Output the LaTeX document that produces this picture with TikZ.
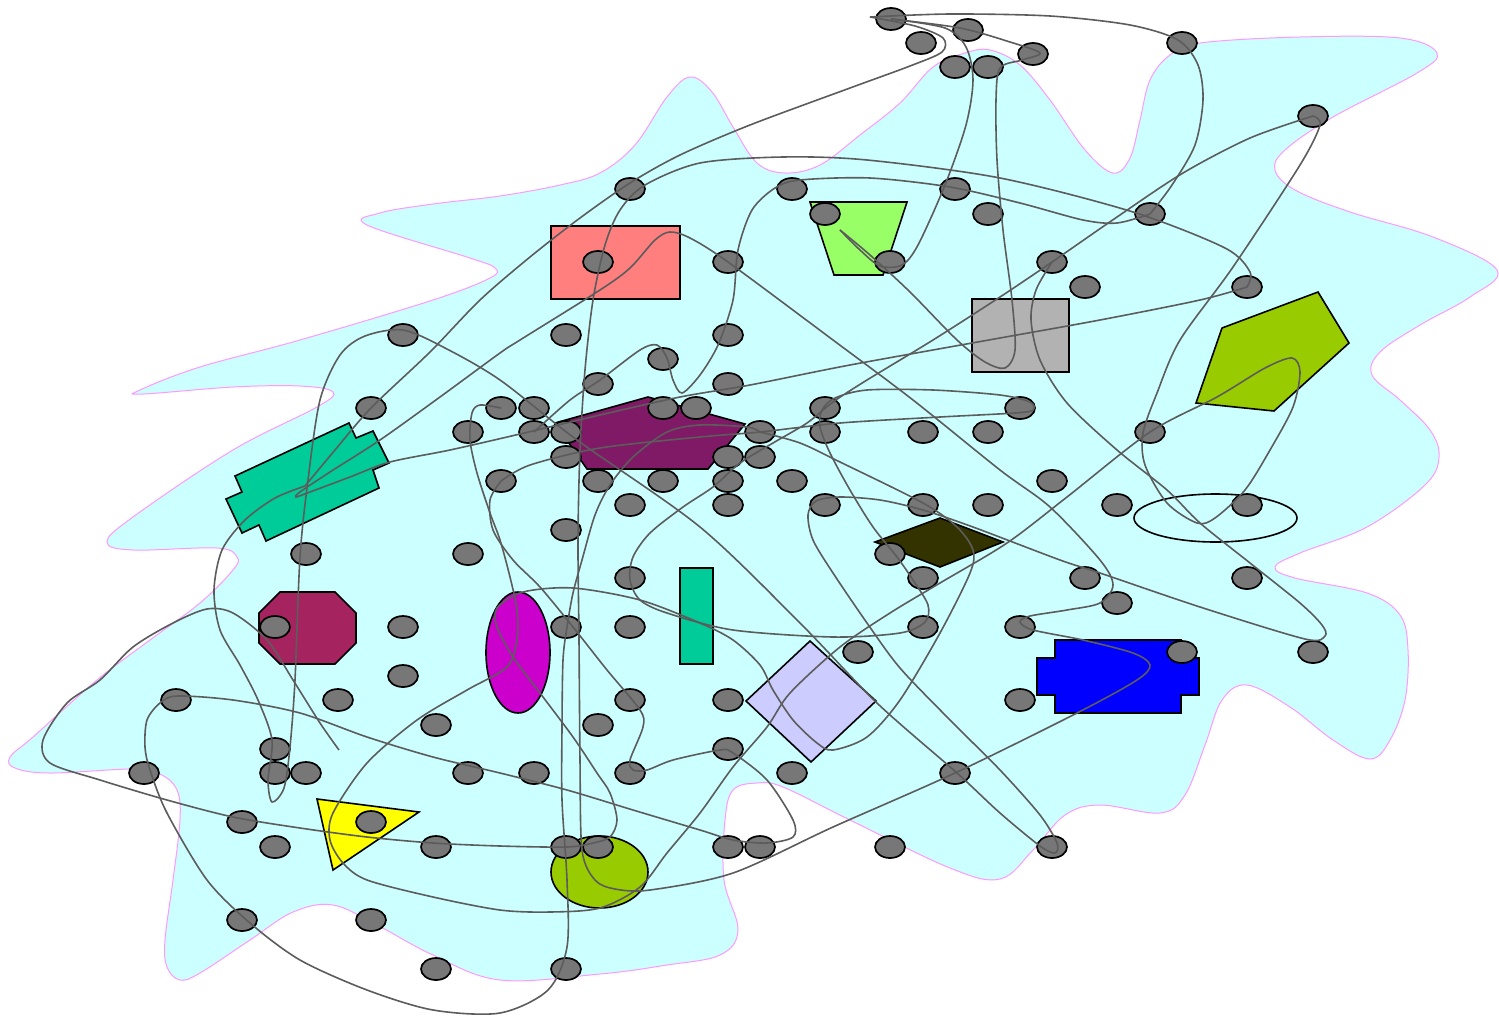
\documentclass[tikz,border=0pt]{standalone}
\usetikzlibrary{shapes.geometric}
\definecolor{blobfill}{HTML}{CCFFFF}
\definecolor{blobline}{HTML}{FF99FF}
\definecolor{edgec}{HTML}{5C5C5C}
\definecolor{nodec}{HTML}{777777}
\definecolor{salmonc}{HTML}{FF7F7F}
\definecolor{trapc}{HTML}{99FF66}
\definecolor{grayc}{HTML}{B2B2B2}
\definecolor{ygc}{HTML}{99CC00}
\definecolor{purplec}{HTML}{801A66}
\definecolor{tealc}{HTML}{00CC99}
\definecolor{crimsonc}{HTML}{A52460}
\definecolor{magc}{HTML}{CC00CC}
\definecolor{lavc}{HTML}{CCCCFF}
\definecolor{olivec}{HTML}{333300}
\definecolor{bluec}{HTML}{0000FF}
\definecolor{yelc}{HTML}{FFFF00}
\begin{document}
\begin{tikzpicture}[x=1pt,y=-1pt,
  gdot/.style={ellipse, draw=black, fill=nodec, line width=1.7pt, minimum width=30pt, minimum height=22pt, inner sep=0pt, outer sep=0pt},
  conn/.style={draw=edgec, line width=1.6pt},
  shp/.style={draw=black, line width=1.6pt, inner sep=0pt, outer sep=0pt}]
\useasboundingbox (0,0) rectangle (1499,1018);
% background cluster
\path[fill=blobfill, draw=blobline, line width=1pt] plot[smooth cycle, tension=0.6] coordinates {
(690,77) (712,92) (733,127) (757,163) (785,173) (820,165) (860,135) (900,103) (933,67) (965,53) (990,50) (1020,65) (1050,100) (1085,150) (1113,173) (1130,158) (1140,120) (1150,80) (1170,55) (1200,43) (1300,37) (1400,38) (1437,53) (1417,73) (1333,117) (1285,150) (1275,170) (1295,190) (1350,212) (1433,237) (1497,270) (1470,297) (1420,325) (1380,352) (1372,375) (1400,400) (1430,430) (1439,457) (1425,485) (1367,527) (1300,553) (1275,567) (1295,578) (1367,593) (1400,615) (1408,650) (1405,700) (1390,740) (1370,759) (1333,740) (1290,707) (1247,685) (1222,700) (1205,745) (1185,795) (1160,813) (1100,805) (1065,815) (1033,850) (1000,879) (950,868) (850,820) (783,787) (757,783) (733,790) (725,820) (724,880) (738,930) (720,955) (667,965) (600,974) (500,980) (433,955) (377,925) (333,905) (293,912) (250,940) (200,973) (180,980) (167,967) (165,940) (173,880) (180,820) (177,790) (160,774) (133,769) (50,773) (15,768) (10,757) (33,737) (97,680) (150,640) (200,603) (233,570) (237,557) (217,548) (133,550) (107,542) (133,517) (233,450) (317,407) (333,392) (300,386) (233,387) (143,394) (140,390) (200,367) (300,340) (433,300) (490,278) (495,268) (470,258) (367,225) (380,213) (433,204) (500,196) (560,185) (600,173) (635,145) (667,97)};
% big shapes
\node[shp, fill=salmonc, minimum width=129pt, minimum height=73pt] (salmon) at (615.5,262.5) {};
\node[shp, fill=grayc, minimum width=97pt, minimum height=73pt] (grayrect) at (1020.5,335.5) {};
\node[shp, fill=tealc, minimum width=33pt, minimum height=96pt] (tealrect) at (696.5,616) {};
\node[shp, ellipse, fill=magc, minimum width=64pt, minimum height=121pt] (mag) at (518,652.5) {};
\node[shp, ellipse, minimum width=163pt, minimum height=48pt] (wellipse) at (1215.5,518) {};
\node[shp, ellipse, fill=ygc, minimum width=97pt, minimum height=72pt] (ygcircle) at (599.5,872) {};
\draw[shp, fill=trapc] (810,202) -- (907,202) -- (883,275) -- (834,275) -- cycle;
\draw[shp, fill=ygc] (1222,328) -- (1318,292) -- (1349,343) -- (1274,411) -- (1196,403) -- cycle;
\draw[shp, fill=purplec] (555,423) -- (648,397) -- (745,424) -- (708,469) -- (587,469) -- cycle;
\draw[shp, fill=tealc] (235,476) -- (349,423) -- (356,438) -- (373,431) -- (389,463) -- (373,470) -- (379,488) -- (266,541) -- (259,525) -- (242,533) -- (226,499) -- (242,492) -- cycle;
\draw[shp, fill=crimsonc] (280,592) -- (335,592) -- (356,613) -- (356,643) -- (335,664) -- (280,664) -- (259,643) -- (259,613) -- cycle;
\draw[shp, fill=lavc] (810,641) -- (876,701) -- (811,762) -- (746,701) -- cycle;
\draw[shp, fill=olivec] (875,542) -- (940,518) -- (1003,542) -- (940,567) -- cycle;
\draw[shp, fill=bluec] (1055,640) -- (1181,640) -- (1181,658) -- (1199,658) -- (1199,695) -- (1181,695) -- (1181,713) -- (1055,713) -- (1055,695) -- (1037,695) -- (1037,658) -- (1055,658) -- cycle;
\draw[shp, fill=yelc] (317,799) -- (419,812) -- (333,870) -- cycle;
% small nodes
\foreach \x/\y [count=\i] in {891/19, 968/30, 921/43, 1033/54, 955/67, 988/67, 1182/43, 1313/116, 630/189, 792/189,
955/189, 1150/214, 988/214, 825/214, 598/262, 728/262, 890/262, 1052/262, 1085/287, 1247/287,
403/335, 566/335, 728/335, 663/359, 598/384, 728/384, 371/408, 501/408, 534/408, 663/408,
696/408, 825/408, 1020/408, 468/432, 534/432, 566/432, 760/432, 825/432, 923/432, 988/432,
1150/432, 566/457, 728/457, 760/457, 501/481, 598/481, 663/481, 728/481, 792/481, 1052/481,
630/505, 728/505, 825/505, 923/505, 988/505, 1117/505, 1247/505, 566/530, 306/554, 468/554,
890/554, 630/578, 923/578, 1085/578, 1247/578, 1117/603, 275/627, 403/627, 566/627, 630/627,
923/627, 1020/627, 858/652, 1182/652, 1313/652, 403/676, 176/700, 338/700, 630/700, 728/700,
1020/700, 436/725, 598/725, 275/749, 728/749, 144/773, 275/773, 306/773, 468/773, 534/773,
630/773, 792/773, 955/773, 242/822, 371/822, 275/847, 436/847, 566/847, 598/847, 728/847,
760/847, 890/847, 1052/847, 242/920, 371/920, 436/969, 566/969}
  \node[gdot] (n\i) at (\x,\y) {};
\coordinate (tipA) at (870,17);
\coordinate (tipB) at (840,230);
\coordinate (tc) at (305,486);
\coordinate (endC) at (339,750);
% connectors
\draw[conn] plot[smooth] coordinates {(tipA) (950,14) (1050,16) (1130,25) (1178,40) (1198,65) (1203,100) (1195,145) (1172,185) (n12.center)};
\draw[conn] plot[smooth] coordinates {(n18.center) (1036,290) (1031,320) (1040,360) (1067,403) (1117,450) (1167,490) (1200,523) (1250,563) (1300,603) (1322,625) (1325,636) (1305,639) (1200,607) (1100,573) (1060,560) (973,527) (923,510) (880,500) (840,497) (816,501) (808,515) (813,540) (833,573) (867,623) (900,668) (950,720) (1000,770) (1040,815) (1057,843) (1055,853) (1040,846) (1000,813) (957,773) (877,703) (800,623) (700,527) (577,440) (500,380) (445,348) (403,330) (365,336) (340,355) (320,400) (308,480) (300,557) (295,680) (290,747) (284,788) (272,802) (268,780) (272,740) (258,700) (240,665) (220,630) (214,590) (222,550) (245,520) (275,498) (tc)};
\draw[conn] plot[smooth] coordinates {(tipA) (915,26) (943,38) (942,52) (910,66) (850,88) (750,125) (680,155) (630,183) (580,218) (530,257) (480,300) (430,352) (n27.center) (335,450) (tc)};
\draw[conn] plot[smooth] coordinates {(n1.center) (960,28) (1010,42) (1040,53) (1022,60) (1000,68) (996,100) (997,160) (1003,230) (1012,300) (1015,350) (1005,368) (985,362) (957,340) (910,292) (870,255) (tipB)};
\draw[conn] plot[smooth] coordinates {(n1.center) (945,28) (966,47) (973,80) (966,125) (945,185) (918,245) (902,265) (880,266) (860,250) (tipB)};
\draw[conn] plot[smooth] coordinates {(n20.center) (1250,272) (1225,248) (1133,212) (1000,178) (867,160) (783,157) (700,163) (645,185) (620,210) (605,245) (593,300) (585,370) (580,450) (578,540) (579,640) (580,760) (582,850) (595,880) (615,889) (650,890) (733,873) (833,827) (n93.center) (1077,713) (1137,680) (1150,665) (1133,653) (1083,640) (1033,630) (1020,622) (1030,616) (1067,610) (1100,603) (1113,585) (1100,560) (1050,507) (1000,470) (913,400) (833,340) (n16.center) (690,238) (670,232) (655,240) (630,268) (600,290) (520,340) (500,353) (440,397) (380,440) (330,472) (300,492) (296,497) (310,492) (350,477) (390,462) (450,450) (520,434) (600,415) (680,397) (750,385) (850,365) (1000,338) (1100,320) (1200,300) (n20.center)};
\draw[conn] plot[smooth] coordinates {(n35.center) (570,400) (600,380) (640,350) (657,345) (667,358) (673,380) (682,393) (700,375) (718,345) (733,300) (738,250) (752,210) (775,188) (800,180) (870,178) (950,187) (1020,203) (1083,220) (1117,223) (n12.center)};
\draw[conn] plot[smooth] coordinates {(n8.center) (1250,138) (1183,173) (1117,217) (n18.center) (1000,297) (933,340) (867,380) (833,402) (807,423) (773,443) (740,463) (713,487) (683,507) (650,533) (633,557) (630,580) (640,600) (667,613) (733,630) (833,637) (900,633) (925,622) (928,605) (913,580) (897,557) (873,527) (850,490) (830,453) (820,427) (822,410) (835,398) (867,390) (933,390) (1000,395) (1030,402) (1033,410) (1015,413) (940,417) (840,423) (760,432) (700,437) (600,448) (530,465) (n45.center)};
\draw[conn] plot[smooth] coordinates {(n45.center) (490,500) (493,530) (513,560) (540,587) (573,627) (607,670) (640,710) (643,727) (630,760) (633,770) (647,770) (673,760) (720,750) (733,753) (767,780) (793,820) (793,837) (767,843) (733,840) (700,830) (633,810) (567,790) (500,773) (433,757) (367,737) (300,713) (233,700) (177,696) (160,703) (147,720) (145,747) (150,770) (167,813) (207,880) (250,923) (300,960) (367,990) (433,1010) (500,1013) (548,990) (567,947) (567,880) (562,800) (562,727) (563,660) (567,627) (573,593) (582,560) (595,515) (610,485) (633,457) (667,432) (700,425) (747,427) (n37.center)};
\draw[conn] plot[smooth] coordinates {(n37.center) (800,443) (840,462) (923,503) (957,527) (973,550) (970,573) (940,633) (900,700) (867,737) (833,750) (817,743) (793,720) (773,690) (760,665) (733,640) (700,623) (640,600) (573,588) (523,592) (497,608) (497,627) (513,657) (540,693) (573,737) (597,773) (610,793) (617,820) (610,837) (593,843) (567,847) (500,846) (433,843) (367,837) (300,828) (233,817) (167,800) (100,780) (50,763) (43,740) (67,703) (100,680) (133,647) (173,623) (207,609) (233,613) (267,640) (293,680) (320,723) (endC)};
\draw[conn] plot[smooth] coordinates {(n8.center) (1320,125) (1300,165) (1233,267) (1180,340) (1157,393) (1143,433) (1145,465) (1167,503) (1197,523) (1215,518) (1245,490) (1270,450) (1293,407) (1300,372) (1292,358) (1265,368) (1217,397) (n41.center) (1067,497) (1007,543) (940,583) (890,613) (840,647) (790,693) (767,727) (733,767) (700,813) (667,853) (640,887) (600,908) (550,912) (500,910) (433,897) (367,880) (343,863) (330,840) (333,813) (367,763) (417,720) (467,690) (507,667) (517,640) (517,610) (510,577) (500,540) (490,513) (477,473) (470,440) (472,413) (480,405) (n28.center)};
\end{tikzpicture}
\end{document}
